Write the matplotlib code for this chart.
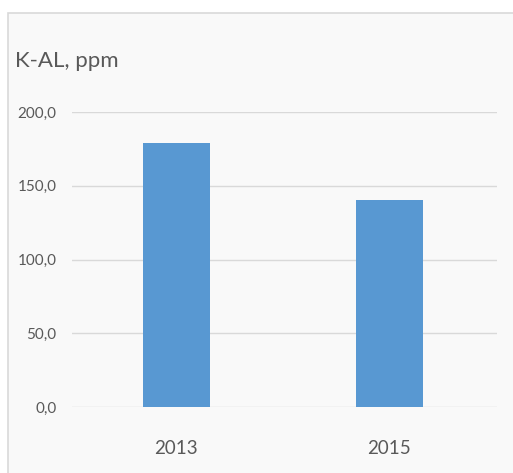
import matplotlib
matplotlib.use("Agg")
import matplotlib.pyplot as plt
from matplotlib.patches import Rectangle
from matplotlib.ticker import FuncFormatter

years = ["2013", "2015"]
k_al = [179.0, 140.0]
y_ticks = [0, 50, 100, 150, 200]

plt.rcParams["font.family"] = ["Lato", "DejaVu Sans"]

fig = plt.figure(figsize=(5.13, 4.73), dpi=100)
fig.patch.set_facecolor("white")

# chart area frame
frame = Rectangle((8 / 513, -0.02), 1.0, 1 - 13 / 473 + 0.02, transform=fig.transFigure,
                  facecolor="#f9f9f9", edgecolor="#d9d9d9", linewidth=1.2, zorder=0)
fig.patches.append(frame)

ax = fig.add_axes([72 / 513, 66 / 473, 425 / 513, 295 / 473])
ax.set_facecolor("none")
ax.set_zorder(2)

x = range(len(years))
ax.bar(x, k_al, width=0.315, color="#5898d2", zorder=3)

ax.set_xlim(-0.49, 1.505)
ax.set_ylim(0, 200)
ax.set_yticks(y_ticks)
ax.yaxis.set_major_formatter(FuncFormatter(lambda v, _: f"{v:.1f}".replace(".", ",")))
ax.set_xticks(list(x))
ax.set_xticklabels(years)

ax.grid(axis="y", color="#d9d9d9", linewidth=1.0, zorder=0)
for side in ["top", "right", "left", "bottom"]:
    ax.spines[side].set_visible(False)
ax.tick_params(axis="both", length=0, colors="#595959")
ax.tick_params(axis="y", labelsize=11, pad=11)
ax.tick_params(axis="x", labelsize=13.5, pad=24)

fig.text(15 / 513, 1 - 67 / 473, "K-AL, ppm", fontsize=16, color="#595959",
         ha="left", va="baseline", zorder=3)

fig.savefig("out.png", dpi=100)
